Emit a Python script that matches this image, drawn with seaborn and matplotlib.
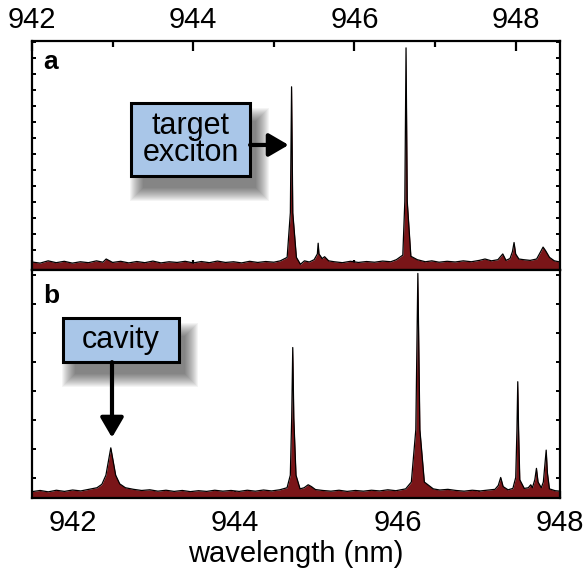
import numpy as np
import matplotlib
matplotlib.use('Agg')
import matplotlib.pyplot as plt
import seaborn as sns
from matplotlib.patches import Rectangle
from matplotlib.ticker import MultipleLocator, FixedLocator

# spectrum a (wavelength in nm, normalised intensity)
wl_a = [942.00, 942.10, 942.20, 942.30, 942.40, 942.50, 942.60, 942.70, 942.80, 942.88,
        942.92, 943.00, 943.10, 943.20, 943.30, 943.40, 943.50, 943.60, 943.70, 943.80,
        943.90, 944.00, 944.10, 944.20, 944.30, 944.40, 944.50, 944.60, 944.70, 944.80,
        944.90, 945.00, 945.08, 945.165, 945.205, 945.22, 945.235, 945.28, 945.33, 945.38,
        945.44, 945.50, 945.54, 945.55, 945.56, 945.60, 945.63, 945.68, 945.75, 945.85,
        945.95, 946.05, 946.15, 946.25, 946.35, 946.45, 946.52, 946.60, 946.625, 946.64,
        946.655, 946.70, 946.78, 946.88, 946.96, 947.05, 947.15, 947.25, 947.35, 947.45,
        947.55, 947.62, 947.70, 947.78, 947.84, 947.88, 947.93, 947.96, 947.98, 948.00,
        948.04, 948.10, 948.18, 948.26, 948.31, 948.34, 948.37, 948.42, 948.48, 948.55]
int_a = [0.035, 0.030, 0.040, 0.032, 0.038, 0.030, 0.036, 0.032, 0.040, 0.034,
         0.048, 0.033, 0.038, 0.031, 0.037, 0.032, 0.039, 0.031, 0.036, 0.033,
         0.038, 0.031, 0.037, 0.032, 0.039, 0.033, 0.036, 0.031, 0.038, 0.033,
         0.037, 0.034, 0.040, 0.055, 0.250, 0.800, 0.250, 0.055, 0.025, 0.040,
         0.035, 0.045, 0.070, 0.117, 0.070, 0.050, 0.058, 0.040, 0.036, 0.032,
         0.038, 0.033, 0.037, 0.034, 0.039, 0.036, 0.045, 0.065, 0.300, 0.970,
         0.300, 0.060, 0.045, 0.036, 0.040, 0.034, 0.038, 0.035, 0.040, 0.036,
         0.042, 0.048, 0.040, 0.045, 0.070, 0.042, 0.050, 0.080, 0.120, 0.070,
         0.048, 0.045, 0.042, 0.048, 0.080, 0.100, 0.085, 0.055, 0.040, 0.035]

# spectrum b
wl_b = [941.50, 941.60, 941.70, 941.80, 941.90, 942.00, 942.10, 942.20, 942.30, 942.36,
        942.41, 942.44, 942.47, 942.50, 942.53, 942.58, 942.65, 942.75, 942.85, 942.95,
        943.05, 943.15, 943.25, 943.35, 943.45, 943.55, 943.65, 943.75, 943.85, 943.95,
        944.05, 944.15, 944.25, 944.35, 944.45, 944.55, 944.64, 944.68, 944.697, 944.71,
        944.723, 944.75, 944.80, 944.85, 944.90, 944.94, 944.99, 945.08, 945.18, 945.28,
        945.38, 945.48, 945.58, 945.68, 945.78, 945.88, 945.98, 946.10, 946.17, 946.225,
        946.25, 946.275, 946.33, 946.44, 946.52, 946.62, 946.72, 946.82, 946.92, 947.02,
        947.12, 947.20, 947.24, 947.27, 947.30, 947.36, 947.42, 947.455, 947.47, 947.48,
        947.49, 947.505, 947.56, 947.61, 947.64, 947.66, 947.69, 947.71, 947.73, 947.77,
        947.795, 947.815, 947.83, 947.845, 947.87, 947.94, 948.00]
int_b = [0.028, 0.033, 0.027, 0.034, 0.029, 0.035, 0.031, 0.038, 0.045, 0.060,
         0.100, 0.160, 0.220, 0.160, 0.100, 0.062, 0.045, 0.038, 0.033, 0.036,
         0.030, 0.034, 0.029, 0.033, 0.028, 0.032, 0.029, 0.034, 0.030, 0.033,
         0.029, 0.034, 0.030, 0.035, 0.031, 0.036, 0.045, 0.100, 0.350, 0.660,
         0.350, 0.100, 0.040, 0.045, 0.058, 0.050, 0.037, 0.033, 0.030, 0.034,
         0.029, 0.033, 0.030, 0.034, 0.031, 0.036, 0.032, 0.040, 0.070, 0.300,
         0.985, 0.300, 0.070, 0.040, 0.035, 0.038, 0.033, 0.030, 0.034, 0.031,
         0.035, 0.038, 0.055, 0.090, 0.050, 0.036, 0.042, 0.090, 0.300, 0.510,
         0.300, 0.080, 0.042, 0.045, 0.058, 0.045, 0.080, 0.130, 0.070, 0.045,
         0.070, 0.150, 0.210, 0.110, 0.040, 0.032, 0.030]

ticks_major = [942, 944, 946, 948]
fill_color = '#7a1518'
box_color = '#a9c6e8'

sns.set_theme(style='ticks')
plt.rcParams['font.family'] = ['Liberation Sans', 'DejaVu Sans']
plt.rcParams['text.color'] = 'black'
plt.rcParams['axes.labelcolor'] = 'black'
plt.rcParams['xtick.color'] = 'black'
plt.rcParams['ytick.color'] = 'black'

fig = plt.figure(figsize=(5.83, 5.83), dpi=100)
W, H = 583, 583
ax_a = fig.add_axes([32 / W, 1 - 270 / H, 528 / W, 229 / H])
ax_b = fig.add_axes([32 / W, 1 - 498 / H, 528 / W, 228 / H])


def draw_spectrum(ax, wl, counts):
    ax.fill_between(wl, 0, counts, color=fill_color, lw=0, zorder=2)
    sns.lineplot(x=wl, y=counts, ax=ax, color='black', lw=0.9,
                 estimator=None, sort=False, zorder=3)


def callout(ax, x0, y0, x1, y1, text, hpx):
    # soft drop shadow, built from stacked transparent rectangles
    px = 1 / 528
    py = 1 / hpx
    for k in range(14):
        g = 10 - 1.0 * k
        ax.add_patch(Rectangle((x0 + 9 * px - g * px, y0 - 15 * py - g * py),
                               (x1 - x0) + 2 * g * px, (y1 - y0) + 2 * g * py,
                               transform=ax.transAxes, color='black',
                               alpha=0.045, lw=0, zorder=4))
    ax.add_patch(Rectangle((x0, y0), x1 - x0, y1 - y0, transform=ax.transAxes,
                           fc=box_color, ec='black', lw=2.2, zorder=5))
    ax.text((x0 + x1) / 2, (y0 + y1) / 2, text, transform=ax.transAxes,
            ha='center', va='center', fontsize=22, linespacing=0.9, zorder=6)


for ax in (ax_a, ax_b):
    for s in ax.spines.values():
        s.set_linewidth(1.6)
        s.set_color('black')

# panel a
draw_spectrum(ax_a, wl_a, int_a)
ax_a.set_xlim(942, 948.55)
ax_a.set_ylim(0, 1)
ax_a.xaxis.set_major_locator(FixedLocator(ticks_major))
ax_a.xaxis.set_minor_locator(MultipleLocator(1))
ax_a.tick_params(axis='x', which='both', direction='in', top=True, bottom=True,
                 labeltop=True, labelbottom=False, width=1.6, labelsize=21, pad=5)
ax_a.tick_params(axis='x', which='major', length=7)
ax_a.tick_params(axis='x', which='minor', length=4)
ax_a.yaxis.set_major_locator(FixedLocator(np.arange(0.017, 1.0, 0.07)))
ax_a.tick_params(axis='y', direction='in', left=True, right=True,
                 labelleft=False, length=3, width=1.4)
ax_a.set_xlabel('')
ax_a.set_ylabel('')
ax_a.text(0.021, 0.878, 'a', transform=ax_a.transAxes, fontsize=19,
          fontweight='bold', ha='left', va='baseline')
callout(ax_a, 0.1875, 0.41, 0.413, 0.729, 'target\nexciton', 229)
ax_a.annotate('', xy=(0.486, 0.546), xytext=(0.413, 0.546),
              xycoords='axes fraction', textcoords='axes fraction',
              arrowprops=dict(arrowstyle='-|>,head_length=0.6,head_width=0.35',
                              lw=3, color='black', mutation_scale=20,
                              shrinkA=0, shrinkB=0), zorder=6)

# panel b
draw_spectrum(ax_b, wl_b, int_b)
ax_b.set_xlim(941.5, 948.0)
ax_b.set_ylim(0, 1)
ax_b.xaxis.set_major_locator(FixedLocator(ticks_major))
ax_b.xaxis.set_minor_locator(MultipleLocator(1))
ax_b.tick_params(axis='x', which='both', direction='in', top=False, bottom=True,
                 width=1.6, labelsize=21, pad=8)
ax_b.tick_params(axis='x', which='major', length=5)
ax_b.tick_params(axis='x', which='minor', length=5)
ax_b.yaxis.set_major_locator(FixedLocator(np.arange(0.088, 1.0, 0.127)))
ax_b.tick_params(axis='y', direction='in', left=True, right=True,
                 labelleft=False, length=3, width=1.4)
ax_b.set_ylabel('')
ax_b.set_xlabel('wavelength (nm)', fontsize=21, labelpad=2)
ax_b.text(0.021, 0.855, 'b', transform=ax_b.transAxes, fontsize=19,
          fontweight='bold', ha='left', va='baseline')
callout(ax_b, 0.0587, 0.596, 0.278, 0.789, 'cavity', 228)
ax_b.annotate('', xy=(0.1515, 0.265), xytext=(0.1515, 0.596),
              xycoords='axes fraction', textcoords='axes fraction',
              arrowprops=dict(arrowstyle='-|>,head_length=0.6,head_width=0.35',
                              lw=3, color='black', mutation_scale=20,
                              shrinkA=0, shrinkB=0), zorder=6)

fig.savefig('out.png', dpi=100)
